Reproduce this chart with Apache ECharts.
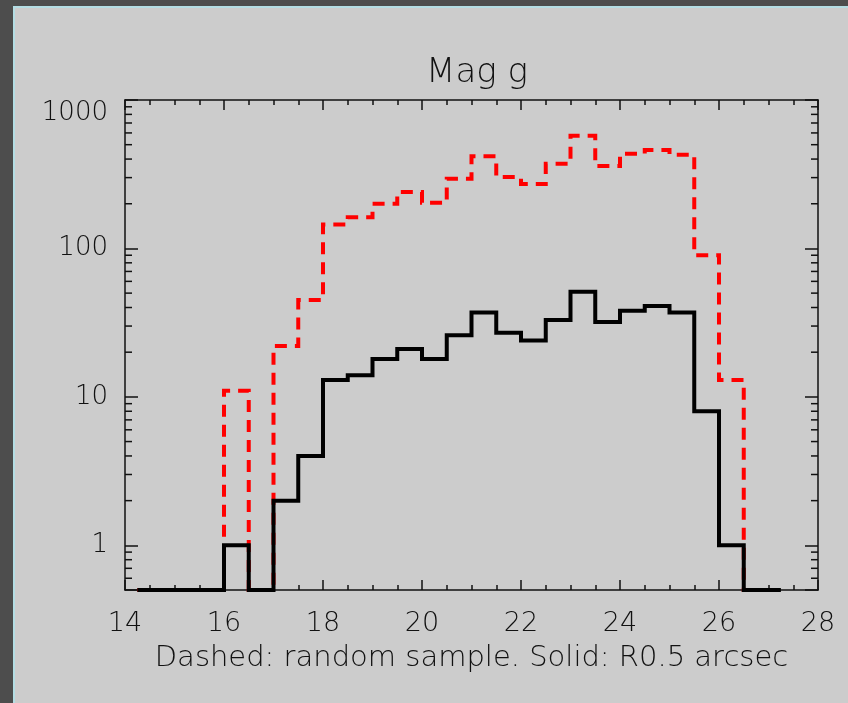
<!DOCTYPE html>
<html>
<head>
<meta charset="utf-8">
<script src="https://cdn.jsdelivr.net/npm/echarts@6/dist/echarts.min.js"></script>
<style>
  html, body { margin: 0; padding: 0; background: #4d4d4d; }
  #panel {
    position: absolute; left: 13px; top: 6px; width: 835px; height: 697px;
    box-sizing: border-box; background: #cccccc;
    border-left: 2px solid #b4dde3; border-top: 2px solid #b4dde3;
  }
  #chart { position: absolute; left: 0; top: 0; width: 848px; height: 703px; }
</style>
</head>
<body>
<div id="panel"></div>
<div id="chart"></div>
<script>
// Histogram of g magnitudes, 0.5 mag bins (values are bin centres)
const binCenters = [14.25, 14.75, 15.25, 15.75, 16.25, 16.75, 17.25, 17.75, 18.25, 18.75,
                    19.25, 19.75, 20.25, 20.75, 21.25, 21.75, 22.25, 22.75, 23.25, 23.75,
                    24.25, 24.75, 25.25, 25.75, 26.25, 26.75, 27.25];
// Dashed: random sample
const randomCounts = [0, 0, 0, 0, 11, 0, 22, 45, 145, 162,
                      200, 240, 203, 295, 418, 303, 272, 372, 574, 359,
                      435, 460, 428, 90, 13, 0, 0];
// Solid: R0.5 arcsec
const r05Counts = [0, 0, 0, 0, 1, 0, 2, 4, 13, 14,
                   18, 21, 18, 26, 37, 27, 24, 33, 51, 32,
                   38, 41, 37, 8, 1, 0, 0];

const xMin = 14, xMax = 28, xStep = 2;
const yMin = 0.5, yMax = 1000;
const yLabelValues = [1, 10, 100, 1000];
const yMinorTicks = [0.6, 0.7, 0.8, 0.9, 2, 3, 4, 5, 6, 7, 8, 9,
                     20, 30, 40, 50, 60, 70, 80, 90, 200, 300, 400, 500, 600, 700, 800, 900];

const FONT = '"DejaVu Sans", sans-serif';
const INK = '#111111';

// empty bins sit on the bottom of the log axis
function toPoints(counts) {
  return binCenters.map((x, i) => [x, Math.max(counts[i], yMin)]);
}

function xAxisDef(pos, labels) {
  return {
    type: 'value', position: pos, min: xMin, max: xMax, interval: xStep,
    name: labels ? 'Dashed: random sample. Solid: R0.5 arcsec' : '',
    nameLocation: 'middle', nameGap: 54,
    nameTextStyle: { fontFamily: FONT, fontWeight: 200, fontSize: 29, color: INK },
    axisLine: { show: true, onZero: false, lineStyle: { color: INK, width: 1.5 } },
    axisTick: { show: true, inside: true, length: 10, lineStyle: { color: INK, width: 1.5 } },
    minorTick: { show: true, splitNumber: 4, length: 5, lineStyle: { color: INK, width: 1.5 } },
    axisLabel: { show: labels, margin: 20, fontFamily: FONT, fontWeight: 200, fontSize: 27, color: INK },
    splitLine: { show: false }, minorSplitLine: { show: false }
  };
}

function yAxisDef(pos, labels) {
  return {
    type: 'log', logBase: 10, position: pos, min: yMin, max: yMax,
    axisLine: { show: true, onZero: false, lineStyle: { color: INK, width: 1.5 } },
    axisTick: { show: true, inside: true, length: 13, lineStyle: { color: INK, width: 1.5 } },
    axisLabel: {
      show: labels, margin: 17, fontFamily: FONT, fontWeight: 200, fontSize: 26, color: INK,
      verticalAlignMaxLabel: 'top',
      formatter: v => (yLabelValues.some(t => Math.abs(t - v) / t < 1e-6) ? String(Math.round(v)) : '')
    },
    splitLine: { show: false }
  };
}

const chart = echarts.init(document.getElementById('chart'), null, { renderer: 'canvas' });
chart.setOption({
  animation: false,
  backgroundColor: 'transparent',
  title: {
    text: 'Mag g', left: 472, top: 51, textAlign: 'center',
    textStyle: { fontFamily: FONT, fontWeight: 200, fontSize: 34, color: INK }
  },
  grid: { left: 125, right: 30, top: 100, bottom: 113, containLabel: false },
  xAxis: [xAxisDef('bottom', true), xAxisDef('top', false)],
  yAxis: [yAxisDef('left', true), yAxisDef('right', false)],
  series: [
    {
      // minor log ticks on the left and right frame
      type: 'custom', xAxisIndex: 0, yAxisIndex: 0, silent: true, clip: false, z: 1,
      data: yMinorTicks.map(v => [v]),
      renderItem: (params, api) => {
        const v = api.value(0);
        const l = api.coord([xMin, v]);
        const r = api.coord([xMax, v]);
        const style = { stroke: INK, lineWidth: 1.5 };
        return {
          type: 'group',
          children: [
            { type: 'line', shape: { x1: l[0], y1: l[1], x2: l[0] + 7, y2: l[1] }, style },
            { type: 'line', shape: { x1: r[0] - 7, y1: r[1], x2: r[0], y2: r[1] }, style }
          ]
        };
      }
    },
    {
      name: 'random sample', type: 'line', step: 'middle', clip: false,
      showSymbol: false, symbol: 'none', z: 3,
      data: toPoints(randomCounts),
      lineStyle: { color: '#ff0000', width: 4, type: [12, 8], cap: 'butt', join: 'miter' }
    },
    {
      name: 'R0.5 arcsec', type: 'line', step: 'middle', clip: false,
      showSymbol: false, symbol: 'none', z: 4,
      data: toPoints(r05Counts),
      lineStyle: { color: '#000000', width: 4, type: 'solid', cap: 'butt', join: 'miter' }
    }
  ]
});
</script>
</body>
</html>
